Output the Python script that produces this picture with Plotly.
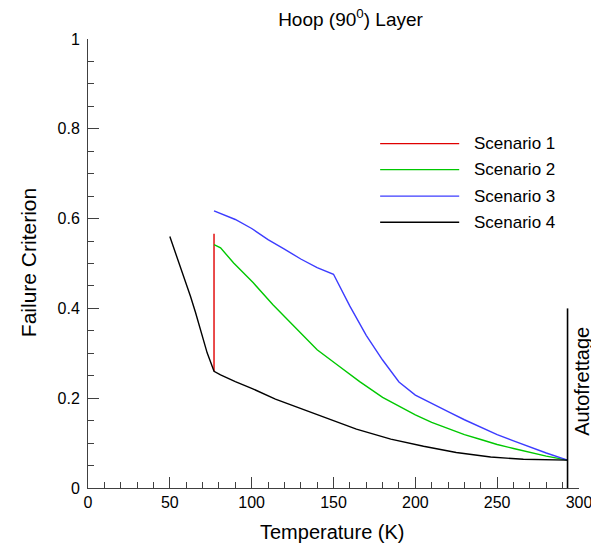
import plotly.graph_objects as go

# ---- data ----
series_names = ["Scenario 1", "Scenario 2", "Scenario 3", "Scenario 4"]
series_colors = ["#e00000", "#00c800", "#3c3cff", "#000000"]

s1_x = [77, 77]
s1_y = [0.260, 0.566]

s2_x = [77, 81, 89, 101, 113, 128, 140, 152, 166, 180, 190, 200, 210,
        220, 230, 240, 250, 260, 270, 280, 293]
s2_y = [0.542, 0.535, 0.501, 0.457, 0.408, 0.353, 0.308, 0.275, 0.237, 0.202, 0.182,
        0.163, 0.146, 0.132, 0.119, 0.108, 0.097, 0.088, 0.079, 0.071, 0.062]

s3_x = [77, 90, 100, 110, 120, 130, 140, 150, 160, 170, 180, 190, 200, 210, 220,
        230, 240, 250, 260, 270, 280, 293]
s3_y = [0.617, 0.598, 0.578, 0.553, 0.532, 0.510, 0.491, 0.476, 0.405, 0.340, 0.285,
        0.236, 0.207, 0.188, 0.170, 0.152, 0.135, 0.119, 0.105, 0.091, 0.078, 0.062]

s4_x = [50, 53, 56.5, 59.5, 62.6, 65.7, 68.7, 72.8, 77, 81, 90, 100, 114.5, 123.5,
        144, 164, 185, 205, 225, 246, 266, 293]
s4_y = [0.560, 0.529, 0.494, 0.461, 0.427, 0.391, 0.353, 0.301, 0.260, 0.252, 0.237,
        0.222, 0.198, 0.186, 0.159, 0.131, 0.109, 0.093, 0.079, 0.069, 0.064, 0.062]

autofrettage_x = [293, 293]
autofrettage_y = [0.0, 0.4]
autofrettage_label = "Autofrettage"

x_ticks = [0, 50, 100, 150, 200, 250, 300]
y_ticks = [0, 0.2, 0.4, 0.6, 0.8, 1]

title_text = "Hoop (90<sup>0</sup>) Layer"
x_title = "Temperature (K)"
y_title = "Failure Criterion"

FONT = "Liberation Sans, Arial, sans-serif"
AXC = "#404040"
LW = 1.4

fig = go.Figure()
all_x = [s1_x, s2_x, s3_x, s4_x]
all_y = [s1_y, s2_y, s3_y, s4_y]
for name, col, xs, ys in zip(series_names, series_colors, all_x, all_y):
    fig.add_trace(go.Scatter(x=xs, y=ys, mode="lines", name=name,
                             line=dict(color=col, width=LW), showlegend=False))

fig.add_trace(go.Scatter(x=autofrettage_x, y=autofrettage_y, mode="lines",
                         line=dict(color="#000000", width=1.6), showlegend=False))

# manual legend (long line samples)
leg_y = [0.767, 0.709, 0.650, 0.592]
for name, col, yy in zip(series_names, series_colors, leg_y):
    fig.add_shape(type="line", xref="paper", yref="paper", x0=0.595, x1=0.756,
                  y0=yy, y1=yy, line=dict(color=col, width=LW))
    fig.add_annotation(xref="paper", yref="paper", x=0.783, y=yy, text=name,
                       showarrow=False, xanchor="left", yanchor="middle",
                       font=dict(family=FONT, size=17, color="#000000"))

fig.add_annotation(xref="paper", yref="paper", x=1.0055, y=0.238, text=autofrettage_label,
                   textangle=-90, showarrow=False, xanchor="center", yanchor="middle",
                   font=dict(family=FONT, size=20, color="#000000"))

# axis titles
fig.add_annotation(xref="paper", yref="paper", x=0.498, y=-0.097, text=x_title,
                   showarrow=False, xanchor="center", yanchor="middle",
                   font=dict(family=FONT, size=20, color="#000000"))
fig.add_annotation(xref="paper", yref="paper", x=-0.122, y=0.501, text=y_title,
                   textangle=-90, showarrow=False, xanchor="center", yanchor="middle",
                   font=dict(family=FONT, size=21, color="#000000"))

# page body has an 8px margin, so the figure is offset by 8px; size and margins compensate
fig.update_layout(
    width=591, height=537,
    margin=dict(l=79.5, r=20, t=31.3, b=56.7, autoexpand=False),
    paper_bgcolor="white", plot_bgcolor="white",
    font=dict(family=FONT, color="#000000"),
    title=dict(text=title_text, x=0.5795, xanchor="center", y=1 - 11 / 537,
               yanchor="middle", font=dict(family=FONT, size=19, color="#000000")),
    showlegend=False,
)
fig.update_xaxes(range=[0, 300], tickvals=x_ticks, ticks="inside", ticklen=11,
                 tickcolor=AXC, tickwidth=1, showline=True, linecolor=AXC, linewidth=1,
                 showgrid=False, zeroline=False,
                 tickfont=dict(family=FONT, size=16, color="#000000"),
                 minor=dict(ticks="inside", dtick=10, ticklen=6, tickcolor=AXC, showgrid=False))
fig.update_yaxes(range=[0, 1], tickvals=y_ticks, ticks="inside", ticklen=11,
                 tickcolor=AXC, tickwidth=1, showline=True, linecolor=AXC, linewidth=1,
                 showgrid=False, zeroline=False, ticklabelstandoff=4,
                 tickfont=dict(family=FONT, size=16, color="#000000"),
                 minor=dict(ticks="inside", dtick=0.05, ticklen=6, tickcolor=AXC, showgrid=False))

fig.write_html("out.html")
